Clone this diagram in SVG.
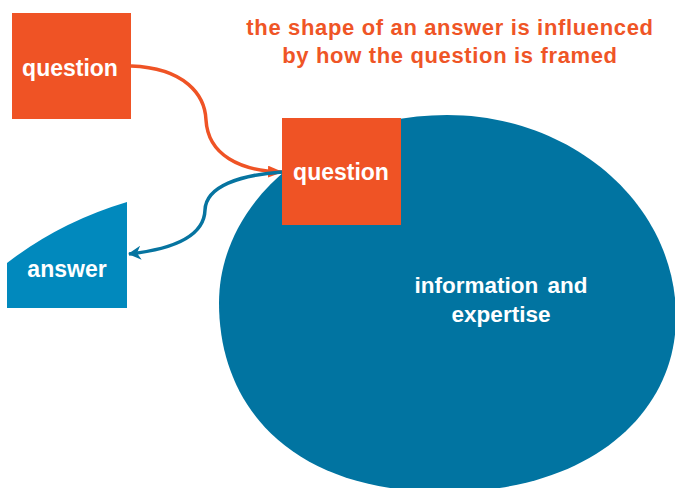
<svg xmlns="http://www.w3.org/2000/svg" width="675" height="488" viewBox="0 0 675 488">
  <style>
    .lbl { font-family: "Liberation Sans", Arial, sans-serif; font-weight: bold; fill: #ffffff; text-anchor: middle; }
    .title { font-family: "Liberation Sans", Arial, sans-serif; font-weight: bold; fill: #ef5526; text-anchor: middle; font-size: 22px; letter-spacing: 0.65px; }
    .box { fill: #ef5325; }
    .link-orange { fill: none; stroke: #ef5325; stroke-width: 3.5; }
    .link-blue { fill: none; stroke: #0674a0; stroke-width: 3.5; }
  </style>
  <defs>
    <marker id="head-orange" viewBox="0 0 15 12" refX="14" refY="6" markerWidth="15" markerHeight="12" markerUnits="userSpaceOnUse" orient="auto">
      <path d="M0,0 L15,6 L0,12 Z" fill="#ef5325"/>
    </marker>
    <marker id="head-blue" viewBox="0 0 13 14" refX="12" refY="7" markerWidth="13" markerHeight="14" markerUnits="userSpaceOnUse" orient="auto">
      <path d="M0,0 L13,7 L0,14 L4,7 Z" fill="#0674a0"/>
    </marker>
  </defs>

  <rect width="675" height="488" fill="#ffffff"/>

  <g id="caption">
    <text class="title" x="450" y="35">the shape of an answer is influenced</text>
    <text class="title" x="450" y="63">by how the question is framed</text>
  </g>

  <g id="knowledge">
    <path d="M447,115 C573,115 676,205 676,317 C676,412 592,492 445,492 C291,492 219,407 219,303 C219,200 321,115 447,115 Z" fill="#0174a1"/>
    <text class="lbl" x="501" y="293" font-size="22.5" word-spacing="3">information and</text>
    <text class="lbl" x="501" y="322" font-size="22.5">expertise</text>
  </g>

  <g id="answer">
    <path d="M7,308 L7,263 Q60,222 127,202 L127,308 Z" fill="#0189bd"/>
    <text class="lbl" x="67" y="277" font-size="23">answer</text>
  </g>

  <g id="question-source">
    <rect class="box" x="12" y="13" width="119" height="106"/>
    <text class="lbl" x="70" y="76" font-size="23">question</text>
  </g>

  <g id="question-posed">
    <rect class="box" x="282" y="118" width="119" height="107"/>
    <text class="lbl" x="341" y="180" font-size="23">question</text>
  </g>

  <g id="connectors">
    <path class="link-orange" d="M131,66 C185,68 205,95 206,120 C208,155 240,171 282,172" marker-end="url(#head-orange)"/>
    <path class="link-blue" d="M282,172 C240,175 206,186 205,210 C204,240 165,250 129,254" marker-end="url(#head-blue)"/>
  </g>
</svg>
